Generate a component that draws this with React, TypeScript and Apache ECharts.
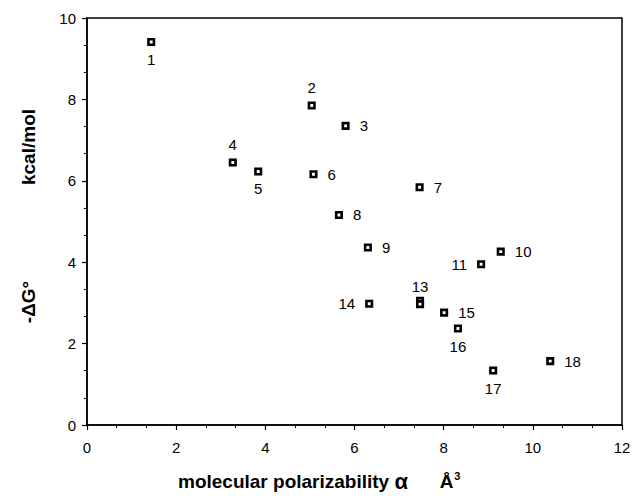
import React, { useEffect, useRef } from "react";
import * as echarts from "echarts";

const compoundIds = ["1", "2", "3", "4", "5", "6", "7", "8", "9", "10", "11", "12", "13", "14", "15", "16", "17", "18"];
const polarizability = [1.44, 5.04, 5.8, 3.27, 3.84, 5.08, 7.46, 5.65, 6.3, 9.28, 8.84, 7.47, 7.47, 6.33, 8.01, 8.32, 9.11, 10.39];
const minusDeltaG = [9.41, 7.85, 7.35, 6.45, 6.23, 6.16, 5.84, 5.16, 4.36, 4.26, 3.95, 3.05, 2.97, 2.98, 2.76, 2.37, 1.34, 1.57];
const xTicks = [0, 2, 4, 6, 8, 10, 12];
const yTicks = [0, 2, 4, 6, 8, 10];

// label placement per compound (layout only)
const labelPlacement: Record<string, string> = {
  "1": "bottom", "2": "top", "3": "right", "4": "top", "5": "bottom", "6": "right",
  "7": "right", "8": "right", "9": "right", "10": "right", "11": "left", "12": "none",
  "13": "top", "14": "left", "15": "right", "16": "bottom", "17": "bottom", "18": "right",
};

const FONT = "'Liberation Sans', Arial, Helvetica, sans-serif";

export default function App() {
  const ref = useRef<HTMLDivElement>(null);
  useEffect(() => {
    if (!ref.current) return;
    const chart = echarts.init(ref.current, null, { renderer: "svg" });
    const data = compoundIds.map((id, i) => {
      const pos = labelPlacement[id];
      const item: any = { name: id, value: [polarizability[i], minusDeltaG[i]] };
      if (pos === "none") {
        item.label = { show: false };
      } else {
        item.label = {
          show: true,
          position: pos,
          distance: pos === "top" || pos === "bottom" ? 6 : 10,
        };
      }
      return item;
    });
    chart.setOption({
      animation: false,
      backgroundColor: "#fff",
      grid: {
        left: 87,
        right: 12,
        top: 18,
        bottom: 71,
        show: true,
        borderColor: "#000",
        borderWidth: 1.5,
      },
      xAxis: {
        type: "value",
        min: xTicks[0],
        max: xTicks[xTicks.length - 1],
        interval: 2,
        axisLine: { show: true, onZero: false, lineStyle: { color: "#000", width: 1.5 } },
        axisTick: { show: true, inside: false, length: 5, lineStyle: { color: "#000", width: 1.2 } },
        minorTick: { show: true, splitNumber: 3, length: 3, lineStyle: { color: "#000", width: 1 } },
        splitLine: { show: false },
        axisLabel: { color: "#000", fontSize: 15, fontFamily: FONT, margin: 15 },
      },
      yAxis: {
        type: "value",
        min: yTicks[0],
        max: yTicks[yTicks.length - 1],
        interval: 2,
        axisLine: { show: true, onZero: false, lineStyle: { color: "#000", width: 1.5 } },
        axisTick: { show: true, inside: false, length: 5, lineStyle: { color: "#000", width: 1.2 } },
        minorTick: { show: true, splitNumber: 3, length: 3, lineStyle: { color: "#000", width: 1 } },
        splitLine: { show: false },
        axisLabel: { color: "#000", fontSize: 15, fontFamily: FONT, margin: 11 },
      },
      series: [
        {
          type: "scatter",
          symbol: "rect",
          symbolSize: 5.5,
          itemStyle: { color: "#fff", borderColor: "#000", borderWidth: 2.6, opacity: 1 },
          label: {
            show: true,
            formatter: "{b}",
            color: "#000",
            fontSize: 15,
            fontFamily: FONT,
          },
          data,
        },
      ],
      graphic: [
        {
          type: "text",
          left: 178,
          top: 470,
          style: {
            text: "{b|molecular polarizability }{a|α}{b|      Å}{s|3}",
            rich: {
              b: { fontSize: 19, fontWeight: "bold", fontFamily: FONT, fill: "#000" },
              a: { fontSize: 22, fontWeight: "bold", fontFamily: FONT, fill: "#000" },
              s: { fontSize: 11, fontWeight: "bold", fontFamily: FONT, fill: "#000", verticalAlign: "top", padding: [0, 0, 12, 1] },
            },
          },
        },
        {
          type: "text",
          x: 28,
          y: 147,
          rotation: Math.PI / 2,
          style: {
            text: "kcal/mol",
            fontSize: 19,
            fontWeight: "bold",
            fontFamily: FONT,
            fill: "#000",
            align: "center",
            verticalAlign: "middle",
          },
        },
        {
          type: "text",
          x: 28,
          y: 302,
          rotation: Math.PI / 2,
          style: {
            text: "-ΔG°",
            fontSize: 19,
            fontWeight: "bold",
            fontFamily: FONT,
            fill: "#000",
            align: "center",
            verticalAlign: "middle",
          },
        },
      ],
    });
    return () => chart.dispose();
  }, []);
  return <div ref={ref} style={{ width: 634, height: 496, position: "absolute", left: 0, top: 0 }} />;
}
